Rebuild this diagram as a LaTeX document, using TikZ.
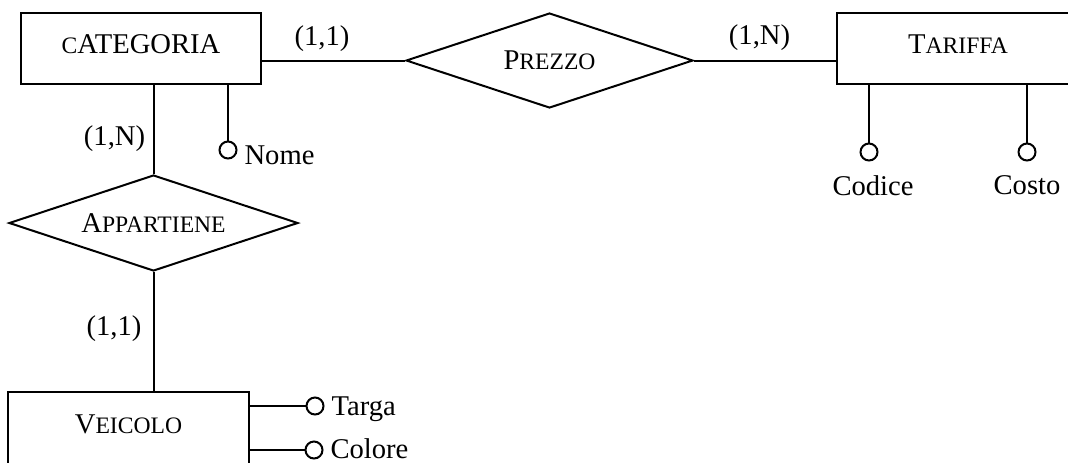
\documentclass[tikz,border=0pt]{standalone}
\usepackage{fontspec}
\setmainfont{Liberation Serif}
\usetikzlibrary{shapes.geometric, calc, positioning}
\tikzstyle{entity} = [rectangle, line width=1pt, minimum width=120pt, minimum height=35.5pt, text height=10pt, text depth=5pt, draw=black]
\tikzstyle{relation} = [diamond, line width=1pt, aspect=3, inner sep=0pt, minimum width=144pt, minimum height=48pt, draw=black]
\tikzstyle{attrib} = [circle, line width=1pt, inner sep=0pt, minimum size=8.5pt, draw=black]
\tikzstyle{line} = [line width=1pt]
\newcommand{\smc}[1]{{\fontsize{11.8pt}{14pt}\selectfont #1}}

\begin{document}
\begin{tikzpicture}[x=0.5pt, y=-0.5pt, font=\fontsize{14.3pt}{17pt}\selectfont]
	\useasboundingbox (0,0) rectangle (1068,462);
	% entities and relations
	\node (Categoria) [entity] at (141,48.5) {\smc{C}ATEGORIA};
	\node (Tariffa) [entity, minimum width=121pt] at (958,48.5) {T\smc{ARIFFA}};
	\node (Veicolo) [entity, minimum width=120.5pt, minimum height=38pt, text depth=7pt] at (128.5,430) {V\smc{EICOLO}};
	\node (Prezzo) [relation, minimum width=143.5pt, minimum height=47.5pt] at (549.5,60.5) {P\smc{REZZO}};
	\node (Appartiene) [relation, minimum width=144.5pt] at (153.5,223) {A\smc{PPARTIENE}};
	% attributes
	\node (NomeC) [attrib] at (228,150) {};
	\node (Nome) [right = 0pt of NomeC, yshift=-2.75pt] {Nome};
	\node (CodiceC) [attrib] at (869,152) {};
	\node (Codice) [below = 3.5pt of CodiceC, xshift=2pt] {Codice};
	\node (CostoC) [attrib] at (1027,152) {};
	\node (Costo) [below = 3.5pt of CostoC] {Costo};
	\node (TargaC) [attrib] at (315,406) {};
	\node (Targa) [right = 0pt of TargaC, yshift=-1.5pt] {Targa};
	\node (ColoreC) [attrib] at (314,450) {};
	\node (Colore) [right = 0pt of ColoreC, yshift=0.5pt] {Colore};
	% cardinalities
	\node (CardCP) at (322,38.5) {(1,1)};
	\node (CardTP) at (759.5,38) {(1,N)};
	\node (CardCA) at (114.5,138.5) {(1,N)};
	\node (CardVA) at (114,328.5) {(1,1)};
	\draw [line] (Prezzo.west) -- (Prezzo.west -| Categoria.east);
	\draw [line] (Prezzo.east) -- (Prezzo.east -| Tariffa.west);
	\draw [line] (Appartiene.north) -- (Appartiene.north |- Categoria.south);
	\draw [line] (Appartiene.south) -- (Appartiene.south |- Veicolo.north);
	\draw [line] (NomeC.north) -- (NomeC.north |- Categoria.south);
	\draw [line] (CodiceC.north) -- (CodiceC.north |- Tariffa.south);
	\draw [line] (CostoC.north) -- (CostoC.north |- Tariffa.south);
	\draw [line] (TargaC.west) -- (TargaC.west -| Veicolo.east);
	\draw [line] (ColoreC.west) -- (ColoreC.west -| Veicolo.east);
\end{tikzpicture}
\end{document}
